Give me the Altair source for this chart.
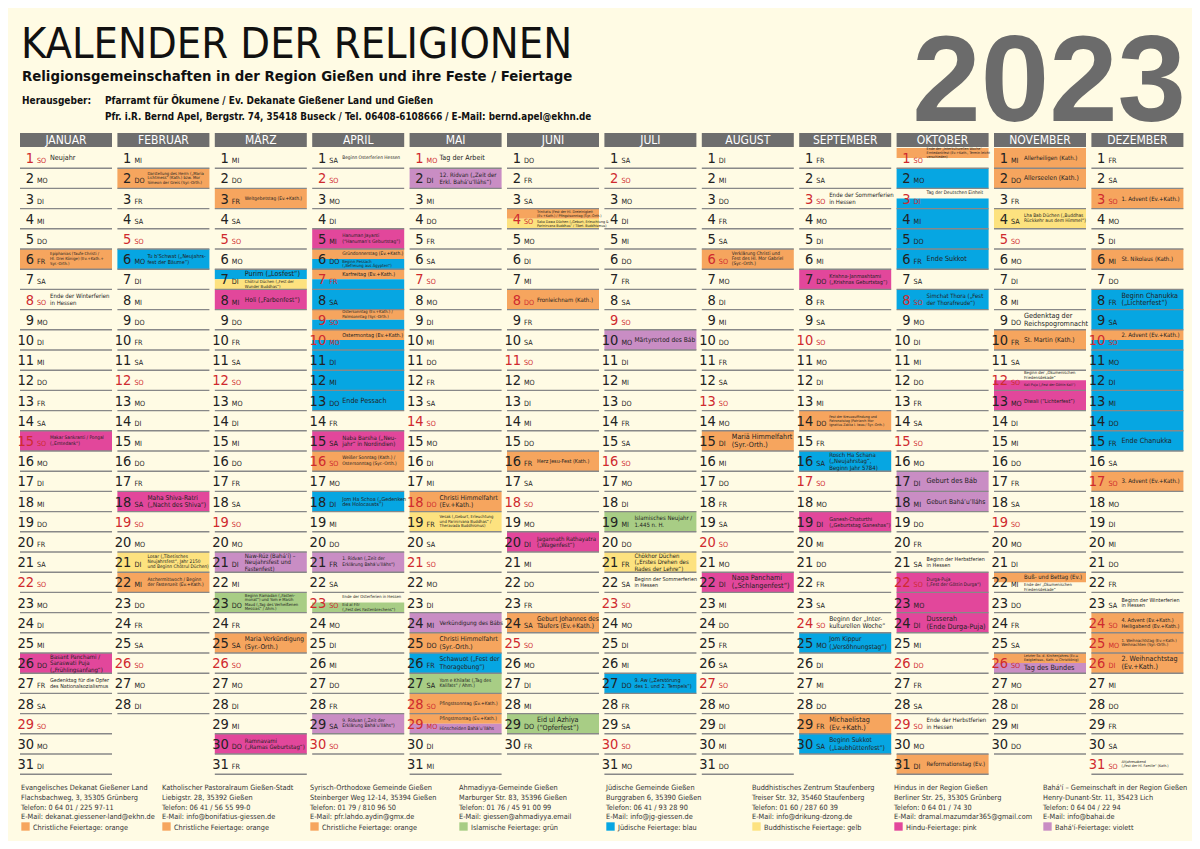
import calendar
import datetime
import altair as alt
import pandas as pd

# ---------------- data ----------------
YEAR = 2023
MONTHS = ["JANUAR", "FEBRUAR", "MÄRZ", "APRIL", "MAI", "JUNI", "JULI",
          "AUGUST", "SEPTEMBER", "OKTOBER", "NOVEMBER", "DEZEMBER"]
WEEKDAYS = ["MO", "DI", "MI", "DO", "FR", "SA", "SO"]
# holidays printed in red besides the Sundays
RED_DAYS = {1: [1], 4: [7, 10], 5: [1, 18, 29], 6: [8], 10: [3, 26], 12: [25, 26]}

RELIGIONS = ["christ", "islam", "juden", "buddh", "hindu", "bahai"]
REL_COLORS = ["#F6A55E", "#A8CD85", "#06A6E2", "#FDE27F", "#E2479B", "#C98DC4"]

# (day, part, religion, text)   part: full / top / bottom
JAN = [(1, "full", "", "Neujahr"),
       (6, "full", "christ", "Epiphanias (Taufe Christi /\nHl. Drei Könige) (Ev.+Kath.+\nSyr.-Orth.)"),
       (8, "full", "", "Ende der Winterferien\nin Hessen"),
       (15, "full", "hindu", "Makar Sankranti / Pongal\n(„Erntedank“)"),
       (26, "full", "hindu", "Basant Panchami /\nSaraswati Puja\n(„Frühlingsanfang“)"),
       (27, "full", "", "Gedenktag für die Opfer\ndes Nationalsozialismus")]
FEB = [(2, "full", "christ", "Darstellung des Herrn („Maria\nLichtmess“ (Kath.) bzw. Mor\nSimeon der Greis (Syr.-Orth.)"),
       (6, "full", "juden", "Tu b’Schwat („Neujahrs-\nfest der Bäume“)"),
       (18, "full", "hindu", "Maha Shiva-Ratri\n(„Nacht des Shiva“)"),
       (21, "full", "buddh", "Losar („Tibetisches\nNeujahrsfest“, Jahr 2150\nund Beginn Chötrul Düchen)"),
       (22, "full", "christ", "Aschermittwoch / Beginn\nder Fastenzeit (Ev.+Kath.)")]
MAR = [(3, "full", "christ", "Weltgebetstag (Ev.+Kath.)"),
       (7, "top", "juden", "Purim („Losfest“)"),
       (7, "bottom", "buddh", "Chötrul Düchen („Fest der\nWunder Buddhas“)"),
       (8, "full", "hindu", "Holi („Farbenfest“)"),
       (21, "full", "bahai", "Naw-Rúz (Bahá’í) –\nNeujahrsfest und\nFastenfest)"),
       (23, "full", "islam", "Beginn Ramadan („Fasten-\nmonat“) und Yom e Masih\nMaud („Tag des Verheißenen\nMessias“ / Ahm.)"),
       (25, "full", "christ", "Maria Verkündigung\n(Syr.-Orth.)"),
       (30, "full", "hindu", "Ramnavami\n(„Ramas Geburtstag“)")]
APR = [(1, "full", "", "Beginn Osterferien Hessen"),
       (5, "full", "hindu", "Hanuman Jayanti\n(“Hanuman’s Geburtstag”)"),
       (6, "top", "christ", "Gründonnerstag (Ev.+Kath.)"),
       (6, "bottom", "juden", "Beginn Pessach\n(„Befreiung aus Ägypten“)"),
       (7, "top", "christ", "Karfreitag (Ev.+Kath.)"),
       (7, "bottom", "juden", ""),
       (8, "full", "juden", ""),
       (9, "top", "christ", "Ostersonntag (Ev.+Kath.) /\nPalmsonntag (Syr.-Orth.)"),
       (9, "bottom", "juden", ""),
       (10, "top", "christ", "Ostermontag (Ev.+Kath.)"),
       (10, "bottom", "juden", ""),
       (11, "full", "juden", ""),
       (12, "full", "juden", ""),
       (13, "full", "juden", "Ende Pessach"),
       (15, "full", "hindu", "Naba Barsha („Neu-\njahr“ in Nordindien)"),
       (16, "full", "christ", "Weißer Sonntag (Kath.) /\nOstersonntag (Syr.-Orth.)"),
       (18, "full", "juden", "Jom Ha Schoa („Gedenken\ndes Holocausts“)"),
       (21, "full", "bahai", "1. Ridvan („Zeit der\nErklärung Bahá’u’lláhs“)"),
       (23, "top", "", "Ende der Osterferien in Hessen"),
       (23, "bottom", "islam", "Eid al Fitr\n(„Fest des Fastenbrechens“)"),
       (29, "full", "bahai", "9. Ridvan („Zeit der\nErklärung Bahá’u’lláhs“)")]
MAY = [(1, "full", "", "Tag der Arbeit"),
       (2, "full", "bahai", "12. Ridvan („Zeit der\nErkl. Bahá’u’lláhs“)"),
       (18, "full", "christ", "Christi Himmelfahrt\n(Ev.+Kath.)"),
       (19, "full", "buddh", "Vesak („Geburt, Erleuchtung\nund Parinirvana Buddhas“ /\nTheravada Buddhismus)"),
       (24, "full", "bahai", "Verkündigung des Bábs"),
       (25, "full", "christ", "Christi Himmelfahrt\n(Syr.-Orth.)"),
       (26, "full", "juden", "Schawuot („Fest der\nThoragebung“)"),
       (27, "full", "islam", "Yom e Khilafat („Tag des\nKalifats“ / Ahm.)"),
       (28, "full", "christ", "Pfingstsonntag (Ev.+Kath.)"),
       (29, "top", "christ", "Pfingstmontag (Ev.+Kath.)"),
       (29, "bottom", "bahai", "Hinscheiden Bahá’u’lláhs")]
JUN = [(4, "top", "christ", "Trinitatis (Fest der Hl. Dreieinigkeit\n(Ev.+Kath.) / Pfingstsonntag (Syr.-Orth.)"),
       (4, "bottom", "buddh", "Saka Dawa Düchen („Geburt, Erleuchtung &\nParinirvana Buddhas“ / Tibet. Buddhismus)"),
       (8, "full", "christ", "Fronleichnam (Kath.)"),
       (16, "full", "christ", "Herz Jesu-Fest (Kath.)"),
       (20, "full", "hindu", "Jagannath Rathayatra\n(„Wagenfest“)"),
       (24, "full", "christ", "Geburt Johannes des\nTäufers (Ev.+Kath.)"),
       (29, "full", "islam", "Eid ul Azhiya\n(“Opferfest”)")]
JUL = [(10, "full", "bahai", "Märtyrertod des Báb"),
       (19, "full", "islam", "Islamisches Neujahr /\n1.445 n. H."),
       (21, "full", "buddh", "Chökhor Düchen\n(„Erstes Drehen des\nRades der Lehre“)"),
       (22, "full", "", "Beginn der Sommerferien\nin Hessen"),
       (27, "full", "juden", "9. Aw („Zerstörung\ndes 1. und 2. Tempels“)")]
AUG = [(6, "full", "christ", "Verklärung Christi und\nFest des Hl. Mor Gabriel\n(Syr.-Orth.)"),
       (15, "full", "christ", "Mariä Himmelfahrt\n(Syr.-Orth.)"),
       (22, "full", "hindu", "Naga Panchami\n(„Schlangenfest“)")]
SEP = [(3, "full", "", "Ende der Sommerferien\nin Hessen"),
       (7, "full", "hindu", "Krishna-Janmashtami\n(„Krishnas Geburtstag“)"),
       (14, "full", "christ", "Fest der Kreuzauffindung und\nPatronatstag (Patriarch Mor\nIgnatius Zakka I. Iwas / Syr.-Orth.)"),
       (16, "full", "juden", "Rosch Ha Schana\n(„Neujahrstag“,\nBeginn Jahr 5784)"),
       (19, "full", "hindu", "Ganesh-Chaturthi\n(„Geburtstag Ganeshas“)"),
       (24, "full", "", "Beginn der „Inter-\nkulturellen Woche“"),
       (25, "full", "juden", "Jom Kippur\n(„Versöhnungstag“)"),
       (29, "full", "christ", "Michaelistag\n(Ev.+Kath.)"),
       (30, "full", "juden", "Beginn Sukkot\n(„Laubhüttenfest“)")]
OCT = [(1, "top", "christ", "Ende der „Interkulturellen Woche“\nErntedankfest (Ev.+Kath., Termin leicht\nverschieden)"),
       (2, "full", "juden", ""),
       (3, "top", "", "Tag der Deutschen Einheit"),
       (3, "bottom", "juden", ""),
       (4, "full", "juden", ""),
       (5, "full", "juden", ""),
       (6, "full", "juden", "Ende Sukkot"),
       (8, "full", "juden", "Simchat Thora („Fest\nder Thorafreude“)"),
       (17, "full", "bahai", "Geburt des Báb"),
       (18, "full", "bahai", "Geburt Bahá’u’lláhs"),
       (21, "full", "", "Beginn der Herbstferien\nin Hessen"),
       (22, "full", "hindu", "Durga-Puja\n(„Fest der Göttin Durga“)"),
       (23, "full", "hindu", ""),
       (24, "full", "hindu", "Dusserah\n(Ende Durga-Puja)"),
       (29, "full", "", "Ende der Herbstferien\nin Hessen"),
       (31, "full", "christ", "Reformationstag (Ev.)")]
NOV = [(1, "full", "christ", "Allerheiligen (Kath.)"),
       (2, "full", "christ", "Allerseelen (Kath.)"),
       (4, "full", "buddh", "Lha Bab Düchen („Buddhas\nRückkehr aus dem Himmel“)"),
       (9, "full", "", "Gedenktag der\nReichspogromnacht"),
       (10, "full", "christ", "St. Martin (Kath.)"),
       (12, "top", "", "Beginn der „Ökumenischen\nFriedensdekade“"),
       (12, "bottom", "hindu", "Kali Puja („Fest der Göttin Kali“)"),
       (13, "full", "hindu", "Diwali (“Lichterfest”)"),
       (22, "top", "christ", "Buß- und Bettag (Ev.)"),
       (22, "bottom", "", "Ende der „Ökumenischen\nFriedensdekade“"),
       (26, "top", "christ", "Letzter So. d. Kirchenjahres (Ev.=\nEwigkeitsso., Kath. = Christkönig)"),
       (26, "bottom", "bahai", "Tag des Bundes")]
DEC = [(3, "full", "christ", "1. Advent (Ev.+Kath.)"),
       (6, "full", "christ", "St. Nikolaus (Kath.)"),
       (8, "full", "juden", "Beginn Chanukka\n(„Lichterfest“)"),
       (9, "full", "juden", ""),
       (10, "top", "christ", "2. Advent (Ev.+Kath.)"),
       (10, "bottom", "juden", ""),
       (11, "full", "juden", ""),
       (12, "full", "juden", ""),
       (13, "full", "juden", ""),
       (14, "full", "juden", ""),
       (15, "full", "juden", "Ende Chanukka"),
       (17, "full", "christ", "3. Advent (Ev.+Kath.)"),
       (23, "full", "", "Beginn der Winterferien\nin Hessen"),
       (24, "full", "christ", "4. Advent (Ev.+Kath.)\nHeiligabend (Ev.+Kath.)"),
       (25, "full", "christ", "1. Weihnachtstag (Ev.+Kath.)\nWeihnachten (Syr.-Orth.)"),
       (26, "full", "christ", "2. Weihnachtstag\n(Ev.+Kath.)"),
       (31, "full", "", "Altjahresabend\n(„Fest der Hl. Familie“ (Kath.)")]
EVENTS_BY_MONTH = [JAN, FEB, MAR, APR, MAY, JUN, JUL, AUG, SEP, OCT, NOV, DEC]

FOOTER_NAME = ["Evangelisches Dekanat Gießener Land", "Katholischer Pastoralraum Gießen-Stadt",
               "Syrisch-Orthodoxe Gemeinde Gießen", "Ahmadiyya-Gemeinde Gießen",
               "Jüdische Gemeinde Gießen", "Buddhistisches Zentrum Staufenberg",
               "Hindus in der Region Gießen", "Bahá'í – Gemeinschaft in der Region Gießen"]
FOOTER_ADDR = ["Flachsbachweg, 3, 35305 Grünberg", "Liebigstr. 28, 35392 Gießen",
               "Steinberger Weg 12-14, 35394 Gießen", "Marburger Str. 83, 35396 Gießen",
               "Burggraben 6, 35390 Gießen", "Treiser Str. 32, 35460 Staufenberg",
               "Berliner Str. 25, 35305 Grünberg", "Henry-Dunant-Str. 11, 35423 Lich"]
FOOTER_TEL = ["Telefon: 0 64 01 / 225 97-11", "Telefon: 06 41 / 56 55 99-0",
              "Telefon: 01 79 / 810 96 50", "Telefon: 01 76 / 45 91 00 99",
              "Telefon: 06 41 / 93 28 90", "Telefon: 01 60 / 287 60 39",
              "Telefon: 0 64 01 / 74 30", "Telefon: 0 64 04 / 22 94"]
FOOTER_MAIL = ["E-Mail: dekanat.giessener-land@ekhn.de", "E-Mail: info@bonifatius-giessen.de",
               "E-Mail: pfr.lahdo.aydin@gmx.de", "E-Mail: giessen@ahmadiyya.email",
               "E-Mail: info@jg-giessen.de", "E-Mail: info@drikung-dzong.de",
               "E-Mail: dramal.mazumdar365@gmail.com", "E-Mail: info@bahai.de"]
FOOTER_LEGEND = ["Christliche Feiertage: orange", "Christliche Feiertage: orange",
                 "Christliche Feiertage: orange", "Islamische Feiertage: grün",
                 "Jüdische Feiertage: blau", "Buddhistische Feiertage: gelb",
                 "Hindu-Feiertage: pink", "Bahá'í-Feiertage: violett"]
FOOTER_REL = ["christ", "christ", "christ", "islam", "juden", "buddh", "hindu", "bahai"]

# ---------------- layout (pixels) ----------------
W, H = 1184, 833
COL_START, COL_STEP, COL_W = 12, 97.4, 92.0     # plot px
ROW_TOP, ROW_STEP = 140, 20.2
SPLIT = 0.5
FOOTER_PX = [13, 154, 302, 451, 598, 744, 886, 1035]

FONT = "DejaVu Sans Condensed, Liberation Sans Narrow, sans-serif"
TXT = "#222222"
RED = "#cf2a2e"
BG = "#fffbe4"

X0 = 1 - COL_START / COL_STEP
X1 = X0 + W / COL_STEP
Y0 = -ROW_TOP / ROW_STEP
Y1 = Y0 + H / ROW_STEP
XS = alt.Scale(domain=[X0, X1], nice=False, zero=False)
YS = alt.Scale(domain=[Y0, Y1], nice=False, zero=False, reverse=True)
CW = COL_W / COL_STEP
REL_SCALE = alt.Scale(domain=RELIGIONS, range=REL_COLORS)


def X(f):
    return alt.X(f, type="quantitative", scale=XS, axis=None)


def Y(f):
    return alt.Y(f, type="quantitative", scale=YS, axis=None)


# cells
cells = []
for m in range(1, 13):
    for d in range(1, calendar.monthrange(YEAR, m)[1] + 1):
        wd = WEEKDAYS[datetime.date(YEAR, m, d).weekday()]
        red = wd == "SO" or d in RED_DAYS.get(m, [])
        cells.append(dict(m=m, m2=m + CW, d=d, wd=wd, num=str(d), red=red))
cells = pd.DataFrame(cells)

heads = pd.DataFrame(dict(m=list(range(1, 13)), name=MONTHS))
heads["m2"] = heads["m"] + CW
heads["mc"] = heads["m"] + CW / 2
heads["y"] = -0.743
heads["y2"] = -0.05
heads["yc"] = -0.38

SIZES = [7.2, 6.6, 6.0, 5.4, 4.8, 4.2, 3.6]
LH = 1.1
ev = []
for m, lst in enumerate(EVENTS_BY_MONTH, start=1):
    for d, part, rel, text in lst:
        top, bot = d - 1, d
        if part == "top":
            bot = d - 1 + SPLIT
        elif part == "bottom":
            top = d - 1 + SPLIT
        lines = text.split("\n") if text else [""]
        L = max(len(s) for s in lines)
        hpx = (bot - top) * ROW_STEP
        fs = min(SIZES[0], 63 / (0.50 * max(L, 1)), hpx / (len(lines) * LH))
        b = next((i for i, s in enumerate(SIZES) if s <= fs + 1e-9), len(SIZES) - 1)
        mid = (top + bot) / 2
        first = mid - (len(lines) - 1) * SIZES[b] * LH / 2 / ROW_STEP
        ev.append(dict(m=m, m2=m + CW, top=top, bot=bot, first=first,
                       rel=rel, text=text, b=b))
ev = pd.DataFrame(ev)
ev_rect = ev[ev["rel"] != ""]
ev_text = ev[ev["text"] != ""]

foot = pd.DataFrame(dict(name=FOOTER_NAME, addr=FOOTER_ADDR, tel=FOOTER_TEL,
                         mail=FOOTER_MAIL, leg=FOOTER_LEGEND, rel=FOOTER_REL))
foot["x"] = [X0 + p / COL_STEP for p in FOOTER_PX]
foot["block"] = foot["name"] + "\n" + foot["addr"] + "\n" + foot["tel"] + "\n" + foot["mail"]

layers = []
# header bars
layers.append(alt.Chart(heads).mark_rect(color="#6e6e6e").encode(
    x=X("m"), x2="m2", y=Y("y"), y2="y2"))
layers.append(alt.Chart(heads).mark_text(color="white", font=FONT, fontSize=12,
                                         align="center", baseline="middle").encode(
    x=X("mc"), y=Y("yc"), text="name:N"))
# coloured event cells
layers.append(alt.Chart(ev_rect).mark_rect().encode(
    x=X("m"), x2="m2", y=Y("top"), y2="bot",
    color=alt.Color("rel:N", scale=REL_SCALE, legend=None)))
# separator lines
layers.append(alt.Chart(cells).mark_rule(color="#888888", strokeWidth=1.4).encode(
    x=X("m"), x2="m2", y=Y("d")))
# day numbers and weekdays
daycolor = alt.condition("datum.red", alt.value(RED), alt.value(TXT))
layers.append(alt.Chart(cells).mark_text(font=FONT, fontSize=14.5, align="right",
                                         baseline="alphabetic", dx=14, dy=-5).encode(
    x=X("m"), y=Y("d"), text="num:N", color=daycolor))
layers.append(alt.Chart(cells).mark_text(font=FONT, fontSize=7.2, align="left",
                                         baseline="alphabetic", dx=17, dy=-5).encode(
    x=X("m"), y=Y("d"), text="wd:N", color=daycolor))
# event texts in size groups
for i, s in enumerate(SIZES):
    sub = ev_text[ev_text["b"] == i]
    if len(sub) == 0:
        continue
    layers.append(alt.Chart(sub).mark_text(font=FONT, fontSize=s, lineHeight=s * LH,
                                           lineBreak="\n", align="left", baseline="middle",
                                           dx=30, color=TXT).encode(
        x=X("m"), y=Y("first"), text="text:N"))


# titles
def label(text, x, y, **kw):
    return alt.Chart(pd.DataFrame({"t": [text]})).mark_text(
        align=kw.pop("align", "left"), baseline="alphabetic", **kw).encode(
        x=alt.value(x), y=alt.value(y), text="t:N")


layers.append(label("KALENDER DER RELIGIONEN", 13, 50, font=FONT, fontSize=43, color="#111111"))
layers.append(label("Religionsgemeinschaften in der Region Gießen und ihre Feste / Feiertage",
                    14, 73, font=FONT, fontSize=14.8, fontWeight="bold", color="#111111"))
layers.append(label("Herausgeber:", 14, 96, font=FONT, fontSize=10, fontWeight="bold", color="#111111"))
layers.append(label("Pfarramt für Ökumene / Ev. Dekanate Gießener Land und Gießen",
                    97, 96, font=FONT, fontSize=10, fontWeight="bold", color="#111111"))
layers.append(label("Pfr. i.R. Bernd Apel, Bergstr. 74, 35418 Buseck / Tel. 06408-6108666 / E-Mail: bernd.apel@ekhn.de",
                    97, 112, font=FONT, fontSize=9.8, fontWeight="bold", color="#111111"))
layers.append(label("2023", 1178, 113, align="right", font="Liberation Sans, Arial, sans-serif",
                    fontSize=123, fontWeight="bold", color="#6b6b6b"))

# footer
layers.append(alt.Chart(foot).mark_text(font=FONT, fontSize=7.3, lineHeight=9.8, lineBreak="\n",
                                        align="left", baseline="alphabetic", color="#333333").encode(
    x=X("x"), y=alt.value(782), text="block:N"))
layers.append(alt.Chart(foot).mark_square(size=70, filled=True, opacity=1, xOffset=4.5).encode(
    x=X("x"), y=alt.value(818.5), color=alt.Color("rel:N", scale=REL_SCALE, legend=None)))
layers.append(alt.Chart(foot).mark_text(font=FONT, fontSize=7.3, align="left", baseline="alphabetic",
                                        dx=12, color="#333333").encode(
    x=X("x"), y=alt.value(821.5), text="leg:N"))

chart = alt.layer(*layers).properties(
    width=W, height=H, padding=0, autosize="none", background=BG
).configure_view(stroke=None)

chart.save("out.html", embed_options={"renderer": "svg", "actions": False})
